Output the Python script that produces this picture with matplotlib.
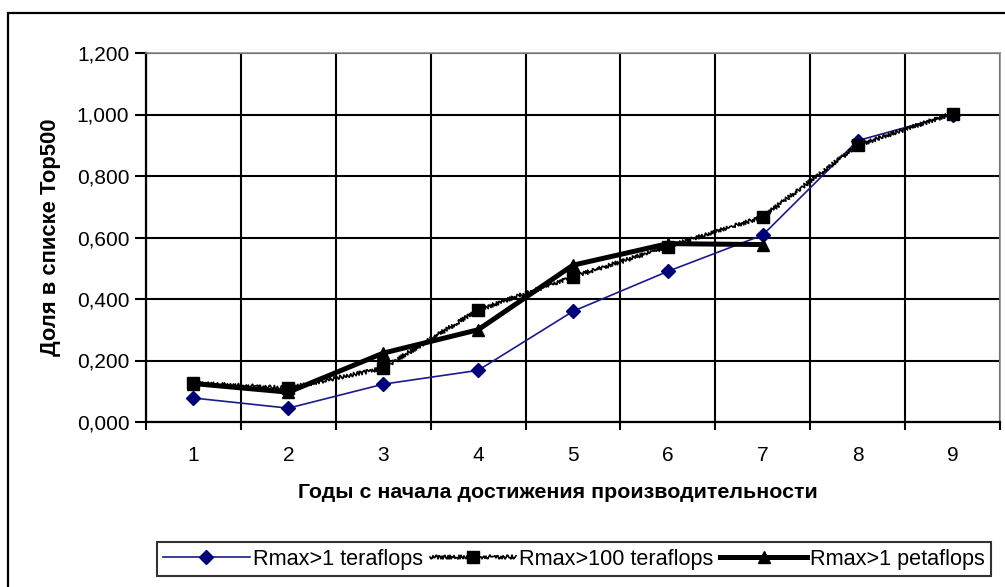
import matplotlib
matplotlib.use("Agg")
import matplotlib.pyplot as plt
from matplotlib.patches import Rectangle
from matplotlib.ticker import FuncFormatter, FixedLocator, NullFormatter

plt.rcParams['font.family'] = ['Liberation Sans', 'DejaVu Sans']

years = [1, 2, 3, 4, 5, 6, 7, 8, 9]
tera1 = [0.078, 0.045, 0.123, 0.168, 0.360, 0.490, 0.608, 0.915, 1.000]
tera100 = [0.127, 0.110, 0.175, 0.364, 0.472, 0.570, 0.667, 0.900, 1.003]
peta1 = [0.125, 0.097, 0.224, 0.300, 0.510, 0.580, 0.577]
years_peta = years[:len(peta1)]

labels = ["Rmax>1 teraflops", "Rmax>100 teraflops", "Rmax>1 petaflops"]
xlabel = "Годы с начала достижения производительности"
ylabel = "Доля в списке Top500"

fig = plt.figure(figsize=(10.05, 5.87), dpi=100)
ax = fig.add_axes([146 / 1005, 1 - 422 / 587, 854 / 1005, 369 / 587])

# outer chart frame
fig.patches.append(Rectangle((8 / 1005, -0.1), 1.2, 1 - 13 / 587 + 0.1,
                             transform=fig.transFigure, fill=False,
                             edgecolor='black', linewidth=1.6))

ax.plot(years, tera1, color='#1a1a8c', lw=1.2, marker='D', ms=7,
        markerfacecolor='#00007a', markeredgecolor='#00007a', label=labels[0], zorder=3)
l2, = ax.plot(years, tera100, color='black', lw=1.2, marker='s', ms=8,
              label=labels[1], zorder=4)
l2.set_sketch_params(scale=2.0, length=3, randomness=2)
ax.plot(years_peta, peta1, color='black', lw=3.6, marker='^', ms=9,
        label=labels[2], zorder=5)

ax.set_xlim(0.5, 9.5)
ax.set_ylim(0, 1.2)
ax.set_yticks([0, 0.2, 0.4, 0.6, 0.8, 1.0, 1.2])
ax.yaxis.set_major_formatter(FuncFormatter(lambda v, p: f"{v:.3f}".replace('.', ',')))
ax.set_xticks(years)
ax.xaxis.set_minor_locator(FixedLocator([x + 0.5 for x in range(0, 10)]))
ax.xaxis.set_minor_formatter(NullFormatter())
ax.tick_params(axis='x', which='major', length=0, labelsize=15, pad=17)
ax.tick_params(axis='x', which='minor', length=6, width=1.5, color='black')
ax.tick_params(axis='y', length=8, width=1.5, labelsize=15, pad=4)

ax.grid(True, axis='y', color='black', lw=1.5, zorder=1)
ax.grid(True, axis='x', which='minor', color='black', lw=1.5, zorder=1)
ax.set_axisbelow(True)

for s in ['left', 'bottom']:
    ax.spines[s].set_linewidth(1.6)
    ax.spines[s].set_color('black')
for s in ['top', 'right']:
    ax.spines[s].set_linewidth(1.2)
    ax.spines[s].set_color('#8c8c8c')

ax.set_xlabel(xlabel, fontsize=15.4, fontweight='bold')
ax.xaxis.set_label_coords(0.482, -0.165)
ax.set_ylabel(ylabel, fontsize=15.8, fontweight='bold')
ax.yaxis.set_label_coords(-0.1, 0.5)

leg = fig.legend(loc='center', bbox_to_anchor=(574 / 1005, 1 - 559 / 587), ncol=3,
                 frameon=True, fancybox=False, edgecolor='black', fontsize=15.6,
                 handlelength=4.0, handletextpad=0.15, columnspacing=0.3,
                 borderpad=0.3, borderaxespad=0)
leg.get_frame().set_linewidth(1.5)

fig.savefig("out.png", dpi=100, facecolor='white')
